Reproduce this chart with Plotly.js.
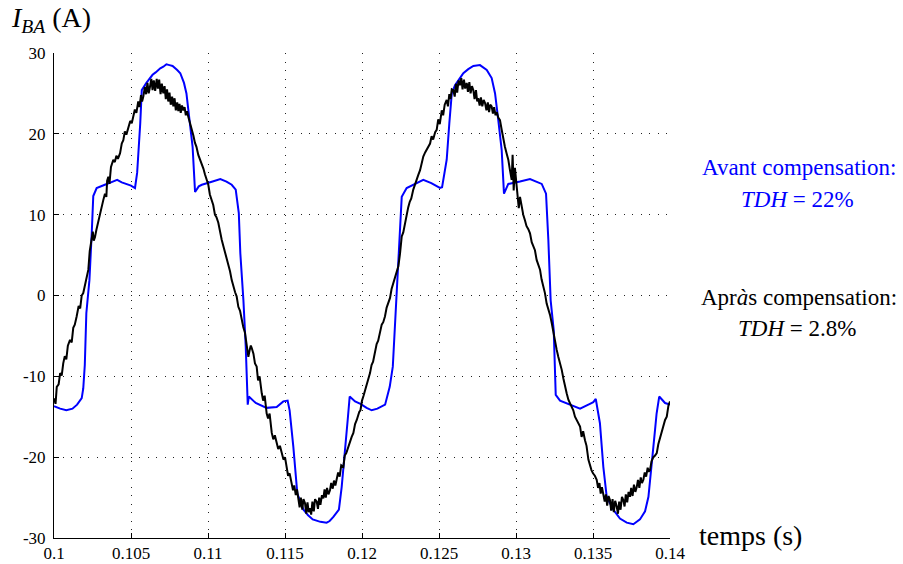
<!DOCTYPE html>
<html>
<head>
<meta charset="utf-8">
<script src="https://cdn.plot.ly/plotly-3.0.1.min.js"></script>
<style>html,body{margin:0;padding:0;background:#fff;}#chart{width:903px;height:564px;}</style>
</head>
<body>
<div id="chart"></div>
<script>
// Blue: before compensation (time in s, current in A)
const tBefore = [
0.1000,0.1004,0.1008,0.1012,0.1015,0.1018,0.1019,0.1020,0.1021,0.1023,0.10245,0.10255,0.10277,0.1030,0.1033,0.1037,0.1041,0.1044,0.1047,0.1050,0.10526,
0.1054,0.1056,0.1057,0.1060,0.1062,0.1064,0.1066,0.1069,0.1071,0.1073,0.1075,0.1077,0.1080,0.1082,0.10844,0.1086,0.1088,0.1090,0.10916,
0.1094,0.1096,0.1099,0.1103,0.1108,0.1112,0.11154,0.1118,0.1120,0.1121,0.1123,0.11245,0.11258,0.11265,0.1131,0.1135,0.1138,0.11446,0.11489,0.11517,
0.1153,0.11554,0.1158,0.1162,0.1165,0.1168,0.1173,0.1177,0.1179,0.11814,0.1185,0.11868,0.1189,0.11907,0.1192,0.11955,0.1199,
0.1203,0.12063,0.1210,0.1215,0.1218,0.1220,0.12219,0.1223,0.12247,0.12258,0.1229,0.1234,0.12398,0.1245,0.12506,0.1252,
0.1255,0.12567,0.12583,0.12604,0.12658,0.1269,0.12723,0.12766,0.1281,0.12842,0.12864,0.12885,0.12907,0.12922,
0.1295,0.13026,0.13091,0.13167,0.13195,0.1321,0.13225,0.13245,0.13258,0.13286,0.1335,0.13416,0.1348,0.13502,0.13518,
0.1353,0.13545,0.13567,0.13589,0.13632,0.13675,0.13719,0.13762,0.13805,0.13838,0.1386,0.13881,0.13903,0.13913,0.1393,0.13968,0.1400
];
const iBefore = [
-13.7,-14.0,-14.2,-14.0,-13.5,-12.7,-11.5,-8.6,-2.2,1.9,7.7,12.3,13.3,13.5,13.7,14.0,14.3,14.0,13.8,13.6,13.3,
15.2,21.3,25.4,26.3,26.8,27.3,27.6,28.1,28.3,28.6,28.5,28.4,27.9,27.5,26.3,25.0,21.7,18.4,12.8,
13.5,13.7,13.9,14.1,14.4,14.1,13.7,13.1,10.2,5.2,-0.6,-6.3,-13.5,-12.5,-13.3,-13.7,-13.9,-13.8,-13.1,-13.0,
-14.2,-18.7,-24.5,-26.5,-27.2,-27.7,-28.0,-28.1,-27.9,-27.4,-26.5,-23.7,-19.5,-15.4,-12.5,-13.1,-13.4,
-13.9,-14.2,-14.0,-13.5,-11.3,-8.8,-2.2,1.9,7.3,12.2,13.3,13.8,14.3,13.9,13.3,13.4,
16.8,21.3,25.0,26.0,27.5,28.0,28.4,28.5,27.9,26.9,25.0,21.7,18.0,12.6,
13.8,14.1,14.4,13.8,12.6,6.9,-0.6,-4.3,-12.3,-13.0,-13.5,-14.0,-13.4,-13.2,-12.8,
-14.2,-15.8,-21.2,-24.9,-26.5,-27.6,-28.1,-28.3,-27.7,-26.7,-24.9,-21.2,-16.6,-14.6,-12.5,-13.3,-13.5
];

// Black: after compensation
const tAfter = [
0.10000,0.10010,0.10018,0.10030,0.10040,0.10050,0.10060,0.10070,0.10080,0.10090,0.10104,0.10115,0.10125,0.10135,0.10147,0.10160,0.10170,0.10180,0.10190,0.10200,
0.10208,0.10215,0.10223,0.10232,0.10245,0.10252,0.10258,0.10266,0.10275,0.10285,0.10299,0.10310,0.10320,0.10331,0.10340,0.10345,0.10353,0.10360,0.10370,0.10385,
0.10395,0.10405,0.10415,0.10429,0.10440,0.10450,0.10460,0.10470,0.10482,0.10495,0.10505,0.10515,0.10525,0.10535,0.10547,0.10555,0.10565,0.10572,0.10580,0.10590,
0.10598,0.10607,0.10615,0.10623,0.10632,0.10640,0.10648,0.10657,0.10667,0.10675,0.10683,0.10692,0.10700,0.10710,0.10718,0.10726,0.10734,0.10742,0.10750,0.10758,
0.10767,0.10775,0.10783,0.10791,0.10800,0.10807,0.10815,0.10823,0.10831,0.10840,0.10848,0.10856,0.10864,0.10872,0.10885,0.10895,0.10905,0.10915,0.10925,0.10937,
0.10947,0.10958,0.10970,0.10980,0.10990,0.11002,0.11012,0.11022,0.11034,0.11045,0.11055,0.11067,0.11078,0.11089,0.11100,0.11110,0.11121,0.11132,0.11143,0.11154,
0.11165,0.11176,0.11186,0.11197,0.11208,0.11218,0.11229,0.11240,0.11250,0.11262,0.11270,0.11278,0.11284,0.11295,0.11305,0.11316,0.11325,0.11335,0.11349,0.11358,
0.11368,0.11381,0.11390,0.11400,0.11414,0.11424,0.11434,0.11446,0.11456,0.11467,0.11479,0.11490,0.11500,0.11511,0.11520,0.11530,0.11543,0.11552,0.11560,0.11570,
0.11578,0.11586,0.11595,0.11603,0.11612,0.11620,0.11630,0.11638,0.11646,0.11654,0.11662,0.11670,0.11678,0.11687,0.11695,0.11706,0.11714,0.11722,0.11730,0.11740,
0.11749,0.11757,0.11765,0.11773,0.11782,0.11792,0.11800,0.11810,0.11818,0.11827,0.11836,0.11845,0.11855,0.11865,0.11879,0.11888,0.11898,0.11911,0.11922,0.11933,
0.11944,0.11955,0.11966,0.11975,0.11982,
0.11990,0.12000,0.12010,0.12019,0.12030,0.12040,0.12052,0.12062,0.12072,0.12084,0.12095,0.12105,0.12117,0.12128,0.12138,0.12149,0.12160,0.12170,0.12182,0.12192,
0.12203,0.12215,0.12225,0.12236,0.12247,0.12258,0.12268,0.12278,0.12290,0.12300,0.12310,0.12320,0.12333,0.12345,0.12355,0.12365,0.12377,0.12390,0.12398,0.12410,
0.12420,0.12430,0.12442,0.12452,0.12462,0.12475,0.12485,0.12495,0.12505,0.12518,0.12527,0.12537,0.12550,0.12558,0.12567,0.12575,0.12583,0.12593,0.12602,0.12610,
0.12618,0.12627,0.12636,0.12645,0.12653,0.12662,0.12670,0.12680,0.12688,0.12697,0.12705,0.12714,0.12723,0.12731,0.12740,0.12748,0.12755,0.12764,0.12772,0.12781,
0.12790,0.12799,0.12808,0.12817,0.12825,0.12833,0.12842,0.12850,0.12858,0.12867,0.12875,0.12885,0.12896,0.12907,0.12918,0.12928,0.12940,0.12950,0.12960,0.12972,
0.12978,0.12985,0.12993,0.13004,0.13012,0.13018,0.13026,0.13036,0.13047,0.13058,0.13068,0.13080,0.13091,0.13102,0.13112,0.13123,0.13134,0.13145,0.13156,0.13166,
0.13177,0.13188,0.13199,0.13210,0.13221,0.13232,0.13242,0.13253,0.13264,0.13275,0.13286,0.13297,0.13308,0.13318,0.13329,0.13340,0.13350,0.13360,0.13372,0.13383,
0.13394,0.13405,0.13416,0.13426,0.13436,0.13448,0.13458,0.13470,0.13481,0.13490,0.13500,0.13512,0.13524,0.13533,0.13542,0.13550,0.13558,0.13567,0.13576,0.13584,
0.13592,0.13601,0.13610,0.13618,0.13627,0.13635,0.13644,0.13654,0.13662,0.13670,0.13679,0.13688,0.13697,0.13705,0.13713,0.13722,0.13731,0.13740,0.13748,0.13757,
0.13766,0.13775,0.13784,0.13792,0.13801,0.13810,0.13818,0.13827,0.13836,0.13845,0.13855,0.13862,0.13870,0.13880,0.13892,0.13903,0.13914,0.13924,0.13935,0.13946,
0.13957,0.13968,0.13979,0.13990,0.14000
];
const iAfter = [
-12.7,-13.4,-11.3,-11.0,-9.6,-9.9,-8.4,-7.5,-7.9,-6.2,-5.5,-5.8,-4.0,-3.6,-2.6,-1.3,-1.6,0.0,0.3,1.2,
1.9,2.4,3.2,5.5,6.9,7.9,6.8,7.2,8.1,9.0,10.2,11.1,11.8,12.6,12.2,14.2,14.7,13.8,15.9,16.8,
16.5,17.3,16.9,17.6,18.8,19.2,20.3,19.9,20.9,21.6,21.3,22.1,23.0,22.6,24.0,23.3,24.8,24.0,24.6,25.8,
24.9,26.3,25.0,25.8,26.8,25.4,26.6,25.3,26.8,25.6,26.7,24.9,26.2,25.0,25.9,24.3,25.5,24.0,25.1,23.6,
24.6,23.4,24.4,22.9,23.9,22.8,23.7,22.6,23.5,22.9,23.3,22.3,22.8,22.1,21.3,20.6,19.8,18.9,18.4,17.4,
16.9,16.4,15.7,15.0,14.4,13.7,12.5,12.0,11.2,10.0,9.7,9.0,7.8,6.9,6.1,5.4,4.8,3.8,3.0,1.9,
1.0,0.4,-0.1,-1.4,-1.9,-2.9,-3.9,-4.6,-5.9,-7.6,-6.8,-6.2,-6.5,-7.2,-8.4,-8.8,-10.5,-10.0,-12.1,-13.0,
-12.4,-14.6,-15.2,-14.6,-17.0,-17.8,-17.3,-18.3,-19.0,-18.6,-19.5,-20.3,-20.0,-21.6,-22.3,-22.0,-23.2,-24.1,-23.5,-24.7,
-24.0,-24.9,-26.2,-25.0,-26.5,-25.2,-25.7,-27.0,-25.6,-26.8,-26.3,-27.1,-25.5,-26.7,-25.2,-25.5,-26.4,-25.0,-25.9,-24.7,
-25.1,-24.0,-25.0,-23.8,-24.6,-24.1,-23.2,-23.9,-22.9,-23.5,-22.8,-21.9,-22.4,-21.0,-21.2,-19.8,-19.5,-18.7,-17.9,-17.5,
-17.0,-15.9,-15.4,-14.8,-14.4,
-14.2,-13.0,-12.4,-11.7,-11.0,-10.4,-9.6,-8.6,-8.2,-7.2,-6.0,-5.6,-4.7,-3.6,-3.3,-2.6,-1.5,-1.0,-0.3,0.8,
1.5,2.1,2.8,3.6,5.2,7.3,7.8,8.9,10.2,10.9,11.6,12.0,13.1,13.8,14.6,14.9,15.5,16.8,17.2,17.7,
18.1,18.4,18.8,19.7,19.3,20.2,20.5,21.8,21.2,22.9,22.3,23.6,24.2,23.4,24.9,24.3,25.5,25.4,24.6,26.2,
25.1,26.6,26.0,26.9,25.5,26.7,25.6,26.3,25.2,26.4,25.0,25.9,25.4,24.3,25.4,24.0,24.4,23.5,24.5,23.4,
24.2,23.8,22.9,23.9,22.7,23.6,23.4,22.5,23.3,22.3,22.7,22.0,21.7,20.5,19.2,18.4,17.5,16.8,15.6,14.3,
17.4,13.0,15.8,13.9,12.6,10.8,12.2,11.0,10.0,9.3,8.6,8.2,7.7,6.6,6.1,5.6,4.4,3.9,3.2,2.0,
1.2,0.3,-1.0,-1.6,-2.4,-3.4,-4.6,-5.6,-6.7,-7.6,-8.3,-9.2,-10.3,-11.0,-12.1,-12.9,-13.3,-13.8,-14.2,-15.0,
-15.4,-15.7,-16.2,-17.5,-16.8,-17.9,-18.6,-20.3,-21.2,-21.6,-22.0,-22.3,-22.8,-23.8,-23.2,-24.5,-23.7,-24.5,-25.5,-24.6,
-26.0,-24.8,-25.3,-26.6,-25.2,-26.8,-25.4,-26.1,-27.0,-25.5,-26.5,-24.9,-25.3,-26.1,-24.6,-25.6,-24.3,-24.9,-23.8,-24.8,
-23.4,-24.3,-23.7,-22.8,-23.8,-22.5,-23.2,-22.8,-21.9,-22.4,-21.3,-21.8,-21.6,-20.5,-20.0,-19.8,-19.5,-18.4,-17.6,-17.0,
-16.2,-15.4,-15.0,-13.6,-13.1
];

const xTickVals = [0.1,0.105,0.11,0.115,0.12,0.125,0.13,0.135,0.14];
const xTickText = ["0.1","0.105","0.11","0.115","0.12","0.125","0.13","0.135","0.14"];
const yTickVals = [-30,-20,-10,0,10,20,30];
const yTickText = ["-30","-20","-10","0","10","20","30"];

const serif = "Liberation Serif";
const L = 54, R = 670, T = 53, B = 538;
function px(x){ return (x - L) / (R - L); }
function py(y){ return (B - y) / (B - T); }

const traces = [
  {x: tBefore, y: iBefore, type: 'scatter', mode: 'lines', line: {color: '#0000ff', width: 2}, hoverinfo: 'skip'},
  {x: tAfter, y: iAfter, type: 'scatter', mode: 'lines', line: {color: '#000000', width: 2}, hoverinfo: 'skip'}
];

const axisCommon = {
  showline: true, linecolor: '#000', linewidth: 1,
  ticks: 'inside', ticklen: 5, tickcolor: '#000', tickwidth: 1,
  showgrid: true, gridcolor: '#222', gridwidth: 1, griddash: '1px,7.5px',
  zeroline: false, tickfont: {family: serif, size: 17, color: '#000'}
};

const layout = {
  width: 903, height: 564,
  font: {family: serif, color: '#000'},
  margin: {l: L, r: 903 - R, t: T, b: 564 - B, pad: 0},
  paper_bgcolor: '#fff', plot_bgcolor: '#fff',
  showlegend: false,
  xaxis: Object.assign({}, axisCommon, {range: [0.1, 0.14], tickmode: 'array', tickvals: xTickVals, ticktext: xTickText}),
  yaxis: Object.assign({}, axisCommon, {range: [-30, 30], tickmode: 'array', tickvals: yTickVals, ticktext: yTickText, ticklabelstandoff: 4}),
  annotations: [
    {xref: 'paper', yref: 'paper', x: px(9), y: py(19), xanchor: 'left', yanchor: 'middle', showarrow: false,
     text: '<i>I</i><sub><i>BA</i></sub> (A)', font: {family: serif, size: 28, color: '#000'}},
    {xref: 'paper', yref: 'paper', x: px(697), y: py(535), xanchor: 'left', yanchor: 'middle', showarrow: false,
     text: 'temps (s)', font: {family: serif, size: 28, color: '#000'}},
    {xref: 'paper', yref: 'paper', x: px(799), y: py(167), xanchor: 'center', yanchor: 'middle', showarrow: false,
     text: 'Avant compensation:', font: {family: serif, size: 23, color: '#0000ff'}},
    {xref: 'paper', yref: 'paper', x: px(797), y: py(199), xanchor: 'center', yanchor: 'middle', showarrow: false,
     text: '<i>TDH</i> = 22%', font: {family: serif, size: 23, color: '#0000ff'}},
    {xref: 'paper', yref: 'paper', x: px(799), y: py(297), xanchor: 'center', yanchor: 'middle', showarrow: false,
     text: 'Apr<i>à</i>s compensation:', font: {family: serif, size: 23, color: '#000'}},
    {xref: 'paper', yref: 'paper', x: px(797), y: py(328), xanchor: 'center', yanchor: 'middle', showarrow: false,
     text: '<i>TDH</i> = 2.8%', font: {family: serif, size: 23, color: '#000'}}
  ]
};

Plotly.newPlot('chart', traces, layout, {staticPlot: true, displayModeBar: false});
</script>
</body>
</html>
